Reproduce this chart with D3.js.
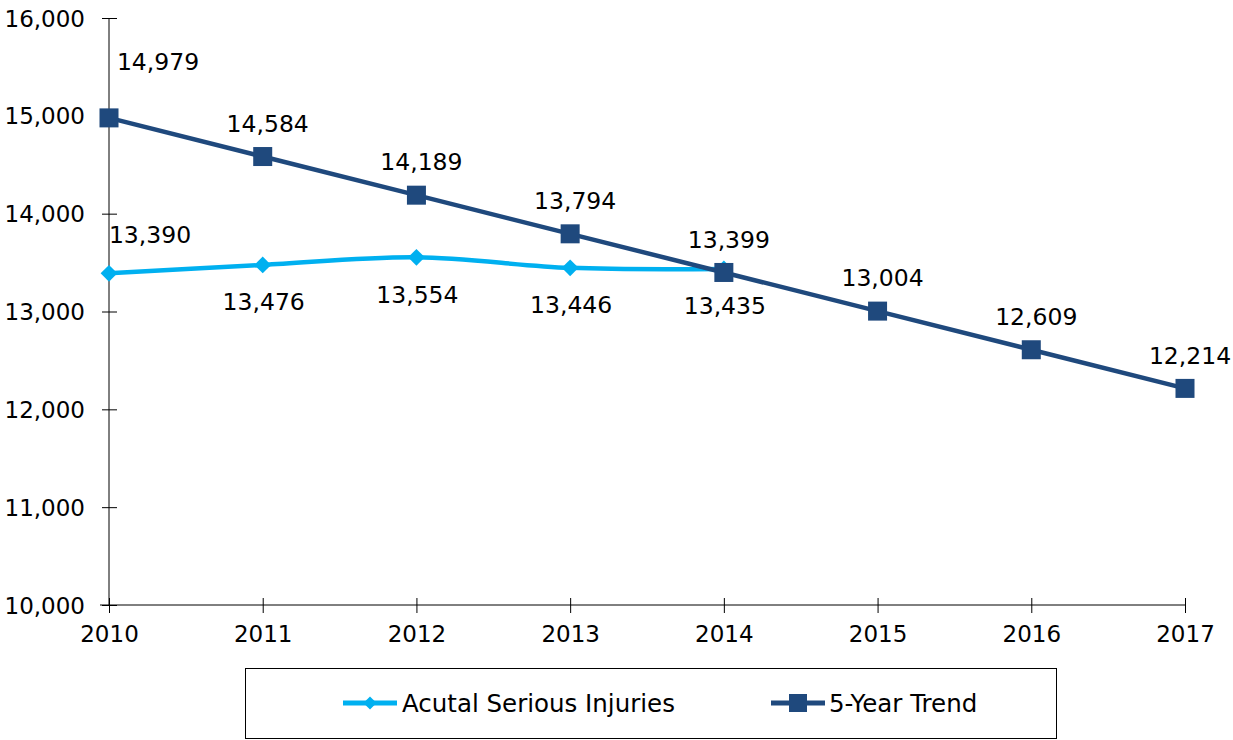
<!DOCTYPE html>
<html>
<head>
<meta charset="utf-8">
<script src="https://cdn.jsdelivr.net/npm/d3@7"></script>
<style>
  body { margin: 0; background: #fff; }
  text { font-family: "DejaVu Sans", Verdana, sans-serif; fill: #000; }
</style>
</head>
<body>
<svg id="chart" width="1233" height="740"></svg>
<script>
// Years on the horizontal axis
const years = [2010, 2011, 2012, 2013, 2014, 2015, 2016, 2017];
// Actual serious injuries (2010–2014)
const actualYears = [2010, 2011, 2012, 2013, 2014];
const actualValues = [13390, 13476, 13554, 13446, 13435];
// Five-year trend line
const trendValues = [14979, 14584, 14189, 13794, 13399, 13004, 12609, 12214];
// Vertical axis ticks
const yTicks = [10000, 11000, 12000, 13000, 14000, 15000, 16000];
const seriesNames = ["Acutal Serious Injuries", "5-Year Trend"];

const actualColor = "#00B0F0";
const trendColor = "#1F497D";

const svg = d3.select("#chart");
const x = d3.scalePoint().domain(years).range([109, 1185]);
const y = d3.scaleLinear().domain([10000, 16000]).range([605, 18]);
const fmt = d3.format(",");

// Y axis
const yAxis = svg.append("g").attr("transform", "translate(109,0)")
  .call(d3.axisLeft(y).tickValues(yTicks).tickFormat(fmt).tickSize(7).tickPadding(17));
yAxis.selectAll(".tick line").attr("x1", 8).attr("x2", -7).attr("stroke", "#000");
yAxis.select(".domain").attr("d", "M0,18V605").attr("stroke", "#000");
yAxis.selectAll("text").style("font-size", "23px").attr("dy", "0.35em");

// X axis
const xAxis = svg.append("g").attr("transform", "translate(0,605)")
  .call(d3.axisBottom(x).tickFormat(d3.format("d")).tickSize(8).tickPadding(13));
xAxis.selectAll(".tick line").attr("y1", -7).attr("y2", 8).attr("stroke", "#000");
xAxis.select(".domain").attr("d", "M100,0H1185").attr("stroke", "#000");
xAxis.selectAll("text").style("font-size", "23px");

// Actual series (smoothed)
const actualData = actualYears.map((yr, i) => ({ yr, v: actualValues[i] }));
svg.append("path")
  .datum(actualData)
  .attr("fill", "none")
  .attr("stroke", actualColor)
  .attr("stroke-width", 4.5)
  .attr("d", d3.line().x(d => x(d.yr)).y(d => y(d.v)).curve(d3.curveCatmullRom.alpha(0.5)));

const diamond = d3.symbol().type(d3.symbolDiamond2).size(180);
svg.selectAll(".actual-marker").data(actualData).join("path")
  .attr("class", "actual-marker")
  .attr("transform", d => `translate(${x(d.yr)},${y(d.v)})`)
  .attr("d", diamond)
  .attr("fill", actualColor);

// Trend series
const trendData = years.map((yr, i) => ({ yr, v: trendValues[i] }));
svg.append("path")
  .datum(trendData)
  .attr("fill", "none")
  .attr("stroke", trendColor)
  .attr("stroke-width", 4.5)
  .attr("d", d3.line().x(d => x(d.yr)).y(d => y(d.v)));

svg.selectAll(".trend-marker").data(trendData).join("rect")
  .attr("class", "trend-marker")
  .attr("x", d => x(d.yr) - 9.5)
  .attr("y", d => y(d.v) - 9.5)
  .attr("width", 19)
  .attr("height", 19)
  .attr("fill", trendColor);

// Data labels
svg.selectAll(".trend-label").data(trendData).join("text")
  .attr("class", "trend-label")
  .attr("text-anchor", "middle")
  .attr("x", (d, i) => x(d.yr) + (i === 0 ? 49 : 5))
  .attr("y", (d, i) => y(d.v) + (i === 0 ? -56 : -33))
  .attr("dy", "0.35em")
  .style("font-size", "23.5px")
  .text(d => fmt(d.v));

svg.selectAll(".actual-label").data(actualData).join("text")
  .attr("class", "actual-label")
  .attr("text-anchor", "middle")
  .attr("x", (d, i) => x(d.yr) + (i === 0 ? 41 : 1))
  .attr("y", (d, i) => y(d.v) + (i === 0 ? -39 : 37))
  .attr("dy", "0.35em")
  .style("font-size", "23.5px")
  .text(d => fmt(d.v));

// Legend
const legend = svg.append("g");
legend.append("rect")
  .attr("x", 245.5).attr("y", 668.5).attr("width", 811).attr("height", 70)
  .attr("fill", "#fff").attr("stroke", "#000").attr("stroke-width", 1);

const ly = 703;
const l1 = legend.append("g");
l1.append("line").attr("x1", 343).attr("x2", 397).attr("y1", ly).attr("y2", ly)
  .attr("stroke", actualColor).attr("stroke-width", 5);
l1.append("path").attr("transform", `translate(370,${ly})`)
  .attr("d", d3.symbol().type(d3.symbolDiamond2).size(110)).attr("fill", actualColor);
l1.append("text").attr("x", 402).attr("y", ly).attr("dy", "0.35em")
  .style("font-size", "24.5px")
  .text(seriesNames[0]);

const l2 = legend.append("g");
l2.append("line").attr("x1", 771).attr("x2", 825).attr("y1", ly).attr("y2", ly)
  .attr("stroke", trendColor).attr("stroke-width", 5);
l2.append("rect").attr("x", 789).attr("y", ly - 9).attr("width", 18).attr("height", 18)
  .attr("fill", trendColor);
l2.append("text").attr("x", 829).attr("y", ly).attr("dy", "0.35em")
  .style("font-size", "24.5px")
  .text(seriesNames[1]);
</script>
</body>
</html>
